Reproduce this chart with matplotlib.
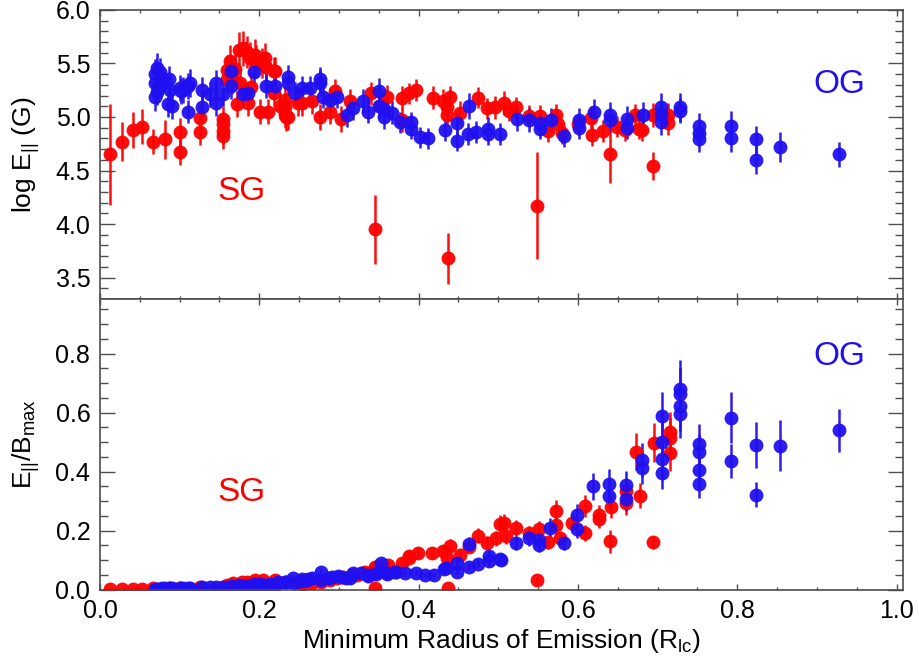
import matplotlib
matplotlib.use("Agg")
import matplotlib.pyplot as plt
from matplotlib.ticker import MultipleLocator

# ---- top panel: log E_par (G) ----
top_red_x = [0.013, 0.027, 0.042, 0.053, 0.066, 0.082, 0.100, 0.100, 0.125, 0.125,
             0.154, 0.154, 0.154, 0.154, 0.159, 0.163, 0.166, 0.170, 0.174, 0.180,
             0.184, 0.188, 0.195, 0.196, 0.203, 0.207, 0.209, 0.159, 0.176, 0.190,
             0.172, 0.186, 0.201, 0.211, 0.226, 0.236, 0.218, 0.220, 0.219, 0.232,
             0.232, 0.232, 0.233, 0.248, 0.254, 0.266, 0.276, 0.289, 0.295, 0.302,
             0.314, 0.340, 0.345, 0.352, 0.360, 0.379, 0.388, 0.397, 0.379, 0.418,
             0.431, 0.439, 0.435, 0.435, 0.437, 0.452, 0.475, 0.486, 0.496, 0.507,
             0.513, 0.522, 0.538, 0.552, 0.548, 0.563, 0.573, 0.575, 0.580, 0.600,
             0.616, 0.617, 0.632, 0.640, 0.649, 0.659, 0.671, 0.677, 0.680, 0.694,
             0.694, 0.713, 0.713]
top_red_y = [4.65, 4.77, 4.88, 4.91, 4.77, 4.79, 4.86, 4.67, 4.86, 4.99,
             4.98, 4.93, 4.87, 4.82, 5.44, 5.52, 5.36, 5.45, 5.63, 5.64,
             5.61, 5.55, 5.58, 5.52, 5.50, 5.55, 5.47, 5.35, 5.32, 5.28,
             5.12, 5.13, 5.05, 5.05, 5.10, 5.00, 5.43, 5.43, 5.22, 5.16,
             5.09, 5.03, 5.00, 5.13, 5.13, 5.15, 5.00, 5.05, 5.24, 4.98,
             5.15, 5.22, 3.95, 5.10, 5.19, 5.18, 5.22, 5.25, 4.97, 5.18,
             5.15, 5.19, 5.09, 5.02, 3.68, 5.04, 5.18, 5.08, 5.09, 5.13,
             5.06, 5.09, 5.01, 5.01, 4.17, 4.87, 5.02, 4.93, 4.85, 4.93,
             4.99, 4.83, 4.87, 4.65, 4.91, 4.88, 5.02, 4.89, 4.88, 4.54,
             5.02, 5.02, 4.94]
top_red_err = [0.47, 0.18, 0.17, 0.16, 0.12, 0.18, 0.13, 0.12, 0.12, 0.12,
               0.12, 0.12, 0.12, 0.12, 0.14, 0.15, 0.15, 0.15, 0.16, 0.16,
               0.15, 0.15, 0.15, 0.15, 0.14, 0.14, 0.14, 0.13, 0.13, 0.13,
               0.12, 0.12, 0.12, 0.12, 0.12, 0.12, 0.13, 0.13, 0.12, 0.13,
               0.13, 0.13, 0.13, 0.12, 0.12, 0.12, 0.12, 0.12, 0.11, 0.12,
               0.11, 0.11, 0.32, 0.11, 0.11, 0.11, 0.10, 0.10, 0.11, 0.11,
               0.11, 0.10, 0.11, 0.11, 0.24, 0.11, 0.10, 0.10, 0.11, 0.11,
               0.10, 0.10, 0.10, 0.10, 0.50, 0.10, 0.10, 0.10, 0.10, 0.10,
               0.11, 0.10, 0.10, 0.27, 0.10, 0.10, 0.10, 0.10, 0.10, 0.13,
               0.11, 0.11, 0.11]

top_blue_x = [0.069, 0.069, 0.069, 0.072, 0.075, 0.073, 0.071, 0.078, 0.077, 0.086,
              0.088, 0.085, 0.091, 0.100, 0.102, 0.104, 0.110, 0.113, 0.110, 0.128,
              0.128, 0.138, 0.145, 0.146, 0.154, 0.165, 0.165, 0.180, 0.186, 0.193,
              0.208, 0.220, 0.236, 0.236, 0.245, 0.254, 0.264, 0.276, 0.276, 0.280,
              0.289, 0.297, 0.310, 0.318, 0.330, 0.336, 0.350, 0.350, 0.357, 0.356,
              0.367, 0.377, 0.391, 0.391, 0.402, 0.412, 0.433, 0.448, 0.448, 0.462,
              0.463, 0.472, 0.487, 0.487, 0.502, 0.523, 0.539, 0.552, 0.552, 0.566,
              0.583, 0.601, 0.601, 0.620, 0.640, 0.640, 0.661, 0.661, 0.682, 0.704,
              0.704, 0.704, 0.728, 0.728, 0.752, 0.752, 0.752, 0.792, 0.792, 0.823,
              0.823, 0.854, 0.928]
top_blue_y = [5.40, 5.32, 5.19, 5.46, 5.42, 5.27, 5.23, 5.36, 5.30, 5.35,
              5.25, 5.12, 5.10, 5.27, 5.24, 5.25, 5.29, 5.32, 5.05, 5.25,
              5.09, 5.21, 5.32, 5.13, 5.21, 5.43, 5.29, 5.21, 5.22, 5.42,
              5.29, 5.29, 5.37, 5.32, 5.22, 5.27, 5.27, 5.35, 5.32, 5.19,
              5.16, 5.19, 5.02, 5.08, 5.15, 5.05, 5.24, 5.10, 5.00, 5.07,
              5.04, 4.95, 4.95, 4.89, 4.81, 4.80, 4.88, 4.94, 4.78, 4.84,
              5.10, 4.86, 4.89, 4.84, 4.84, 4.98, 4.97, 4.94, 4.89, 4.97,
              4.82, 4.97, 4.90, 5.05, 5.02, 4.97, 4.98, 4.90, 5.02, 5.09,
              5.03, 4.95, 5.09, 5.06, 4.92, 4.85, 4.79, 4.92, 4.80, 4.79,
              4.60, 4.72, 4.65]
top_blue_err = [0.14, 0.13, 0.13, 0.14, 0.13, 0.13, 0.12, 0.13, 0.12, 0.13,
                0.12, 0.12, 0.12, 0.12, 0.12, 0.12, 0.12, 0.13, 0.11, 0.12,
                0.11, 0.12, 0.12, 0.12, 0.11, 0.12, 0.12, 0.11, 0.11, 0.12,
                0.11, 0.11, 0.12, 0.12, 0.11, 0.11, 0.11, 0.12, 0.12, 0.11,
                0.11, 0.11, 0.11, 0.11, 0.11, 0.11, 0.12, 0.11, 0.11, 0.11,
                0.11, 0.10, 0.10, 0.10, 0.10, 0.10, 0.10, 0.11, 0.10, 0.10,
                0.12, 0.10, 0.11, 0.10, 0.10, 0.11, 0.11, 0.11, 0.10, 0.11,
                0.10, 0.11, 0.11, 0.12, 0.12, 0.11, 0.12, 0.11, 0.12, 0.13,
                0.12, 0.12, 0.13, 0.12, 0.12, 0.12, 0.12, 0.14, 0.13, 0.13,
                0.13, 0.14, 0.12]

# ---- bottom panel: E_par / B_max ----
bot_red_x = [0.013, 0.027, 0.042, 0.053, 0.066, 0.082, 0.100, 0.100, 0.125, 0.125,
             0.154, 0.159, 0.167, 0.178, 0.184, 0.195, 0.205, 0.220, 0.234, 0.247,
             0.255, 0.266, 0.278, 0.289, 0.297, 0.305, 0.316, 0.322, 0.330, 0.333,
             0.345, 0.347, 0.345, 0.357, 0.362, 0.379, 0.388, 0.388, 0.399, 0.417,
             0.431, 0.435, 0.439, 0.437, 0.452, 0.463, 0.475, 0.486, 0.497, 0.502,
             0.507, 0.510, 0.522, 0.538, 0.548, 0.551, 0.563, 0.573, 0.573, 0.578,
             0.593, 0.609, 0.609, 0.626, 0.626, 0.640, 0.642, 0.660, 0.660, 0.673,
             0.678, 0.694, 0.695, 0.715, 0.715, 0.715]
bot_red_y = [0.003, 0.003, 0.003, 0.003, 0.004, 0.004, 0.006, 0.004, 0.006, 0.009,
             0.010, 0.015, 0.021, 0.024, 0.027, 0.031, 0.033, 0.033, 0.024, 0.021,
             0.019, 0.021, 0.024, 0.033, 0.038, 0.044, 0.049, 0.049, 0.055, 0.060,
             0.078, 0.078, 0.006, 0.078, 0.083, 0.091, 0.106, 0.112, 0.125, 0.125,
             0.129, 0.106, 0.149, 0.006, 0.117, 0.144, 0.182, 0.159, 0.174, 0.223,
             0.225, 0.180, 0.208, 0.191, 0.032, 0.205, 0.160, 0.267, 0.219, 0.174,
             0.225, 0.284, 0.193, 0.253, 0.239, 0.163, 0.280, 0.333, 0.293, 0.467,
             0.318, 0.160, 0.497, 0.533, 0.514, 0.463]
bot_red_err = [0.001, 0.001, 0.001, 0.001, 0.001, 0.001, 0.001, 0.001, 0.001, 0.002,
               0.002, 0.003, 0.003, 0.004, 0.004, 0.005, 0.005, 0.005, 0.004, 0.004,
               0.003, 0.004, 0.004, 0.005, 0.006, 0.007, 0.008, 0.008, 0.009, 0.010,
               0.012, 0.012, 0.002, 0.012, 0.013, 0.014, 0.016, 0.017, 0.019, 0.019,
               0.020, 0.016, 0.022, 0.002, 0.018, 0.021, 0.026, 0.023, 0.025, 0.030,
               0.030, 0.025, 0.028, 0.026, 0.010, 0.028, 0.023, 0.036, 0.030, 0.024,
               0.030, 0.038, 0.027, 0.034, 0.032, 0.040, 0.037, 0.044, 0.039, 0.062,
               0.042, 0.022, 0.066, 0.070, 0.068, 0.061]

bot_blue_x = [0.069, 0.072, 0.075, 0.078, 0.086, 0.088, 0.091, 0.100, 0.104, 0.110,
              0.113, 0.128, 0.138, 0.145, 0.154, 0.165, 0.174, 0.180, 0.189, 0.195,
              0.201, 0.207, 0.214, 0.222, 0.224, 0.232, 0.234, 0.242, 0.243, 0.253,
              0.253, 0.260, 0.261, 0.266, 0.278, 0.278, 0.287, 0.291, 0.299, 0.302,
              0.309, 0.314, 0.318, 0.328, 0.337, 0.338, 0.347, 0.349, 0.353, 0.360,
              0.361, 0.370, 0.371, 0.383, 0.397, 0.408, 0.419, 0.432, 0.434, 0.448,
              0.448, 0.463, 0.463, 0.475, 0.488, 0.488, 0.502, 0.504, 0.522, 0.538,
              0.551, 0.551, 0.565, 0.582, 0.599, 0.599, 0.619, 0.639, 0.639, 0.660,
              0.660, 0.681, 0.681, 0.705, 0.705, 0.705, 0.705, 0.728, 0.728, 0.728,
              0.728, 0.752, 0.752, 0.752, 0.752, 0.792, 0.792, 0.823, 0.823, 0.854,
              0.928]
bot_blue_y = [0.003, 0.003, 0.003, 0.004, 0.004, 0.004, 0.005, 0.005, 0.005, 0.006,
              0.006, 0.007, 0.008, 0.009, 0.010, 0.012, 0.015, 0.013, 0.015, 0.020,
              0.020, 0.015, 0.020, 0.018, 0.024, 0.027, 0.026, 0.038, 0.023, 0.028,
              0.034, 0.032, 0.034, 0.038, 0.060, 0.032, 0.040, 0.043, 0.046, 0.043,
              0.038, 0.038, 0.055, 0.055, 0.046, 0.049, 0.053, 0.060, 0.091, 0.052,
              0.057, 0.060, 0.061, 0.055, 0.057, 0.049, 0.049, 0.068, 0.072, 0.089,
              0.061, 0.155, 0.078, 0.088, 0.112, 0.095, 0.103, 0.100, 0.159, 0.174,
              0.168, 0.151, 0.210, 0.159, 0.251, 0.206, 0.350, 0.359, 0.316, 0.355,
              0.307, 0.440, 0.412, 0.588, 0.500, 0.443, 0.395, 0.679, 0.662, 0.622,
              0.594, 0.495, 0.465, 0.406, 0.358, 0.582, 0.435, 0.490, 0.321, 0.488,
              0.540]
bot_blue_err = [0.001, 0.001, 0.001, 0.001, 0.001, 0.001, 0.001, 0.001, 0.001, 0.001,
                0.001, 0.001, 0.001, 0.002, 0.002, 0.002, 0.002, 0.002, 0.002, 0.003,
                0.003, 0.002, 0.003, 0.003, 0.004, 0.004, 0.004, 0.006, 0.004, 0.004,
                0.005, 0.005, 0.005, 0.006, 0.009, 0.005, 0.006, 0.007, 0.007, 0.007,
                0.006, 0.006, 0.008, 0.008, 0.007, 0.007, 0.008, 0.009, 0.014, 0.008,
                0.009, 0.009, 0.009, 0.008, 0.009, 0.007, 0.007, 0.010, 0.011, 0.013,
                0.009, 0.023, 0.012, 0.013, 0.017, 0.014, 0.015, 0.015, 0.024, 0.026,
                0.025, 0.023, 0.032, 0.024, 0.038, 0.031, 0.046, 0.048, 0.042, 0.047,
                0.041, 0.058, 0.055, 0.082, 0.067, 0.059, 0.053, 0.100, 0.090, 0.083,
                0.079, 0.066, 0.062, 0.054, 0.048, 0.086, 0.058, 0.077, 0.042, 0.086,
                0.073]

RED = "#ff0000"
BLUE = "#2010f0"

plt.rcParams["font.family"] = ["Liberation Sans", "DejaVu Sans"]
plt.rcParams["mathtext.default"] = "regular"

fig = plt.figure(figsize=(9.2, 6.6), dpi=100)
ax1 = fig.add_axes([0.1087, 0.547, 0.8728, 0.438])
ax2 = fig.add_axes([0.1087, 0.1068, 0.8728, 0.4402])


def draw(ax, x, y, err, color):
    ax.errorbar(x, y, yerr=err, fmt="o", color=color, ms=10, mew=0,
                elinewidth=1.8, capsize=0, alpha=0.95)


draw(ax1, top_red_x, top_red_y, top_red_err, RED)
draw(ax1, top_blue_x, top_blue_y, top_blue_err, BLUE)
draw(ax2, bot_red_x, bot_red_y, bot_red_err, RED)
draw(ax2, bot_blue_x, bot_blue_y, bot_blue_err, BLUE)

ax1.set_ylim(3.3, 6.0)
ax2.set_ylim(0.0, 0.985)
for ax in (ax1, ax2):
    ax.set_xlim(0.0, 1.008)
    ax.xaxis.set_major_locator(MultipleLocator(0.2))
    ax.xaxis.set_minor_locator(MultipleLocator(0.05))
    ax.tick_params(which="both", direction="in", top=True, right=True,
                   labelsize=18, color="0.3", width=1.0)
    ax.tick_params(axis="y", which="major", length=11, pad=7)
    ax.tick_params(axis="y", which="minor", length=5.5)
    ax.tick_params(axis="x", which="major", length=4.5, pad=7)
    ax.tick_params(axis="x", which="minor", length=2.3)
    for s in ax.spines.values():
        s.set_color("0.3")
        s.set_linewidth(1.2)

ax1.yaxis.set_major_locator(MultipleLocator(0.5))
ax1.yaxis.set_minor_locator(MultipleLocator(0.1))
ax1.tick_params(axis="x", labelbottom=False)
ax2.yaxis.set_major_locator(MultipleLocator(0.2))
ax2.yaxis.set_minor_locator(MultipleLocator(0.05))

ax1.set_ylabel("log E$_{||}$ (G)", fontsize=19, labelpad=10)
ax2.set_ylabel("E$_{||}$/B$_{max}$", fontsize=19, labelpad=10)
ax2.set_xlabel("Minimum Radius of Emission (R$_{lc}$)", fontsize=19, labelpad=3)

ax1.text(0.178, 4.30, "SG", color=RED, fontsize=24, ha="center", va="center")
ax1.text(0.928, 5.30, "OG", color=BLUE, fontsize=24, ha="center", va="center")
ax2.text(0.178, 0.33, "SG", color=RED, fontsize=24, ha="center", va="center")
ax2.text(0.928, 0.79, "OG", color=BLUE, fontsize=24, ha="center", va="center")

fig.savefig("out.png", dpi=100)
